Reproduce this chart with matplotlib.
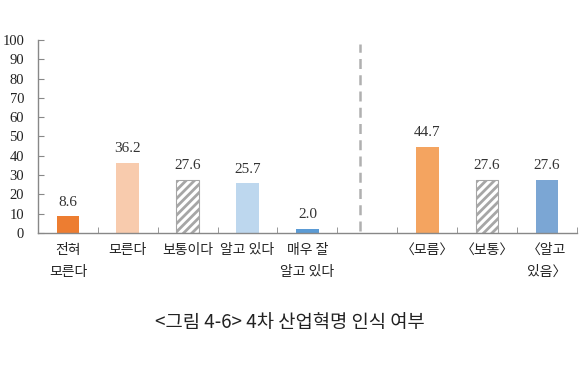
import matplotlib
matplotlib.use('Agg')
import matplotlib.pyplot as plt

plt.rcParams['font.family'] = ['Noto Sans CJK KR', 'DejaVu Sans']
plt.rcParams['hatch.linewidth'] = 2.0

# data
labels = ['전혀\n모른다', '모른다', '보통이다', '알고 있다', '매우 잘\n알고 있다',
          '', '〈모름〉', '〈보통〉', '〈알고\n있음〉']
values = [8.6, 36.2, 27.6, 25.7, 2.0, None, 44.7, 27.6, 27.6]
colors = ['#ed7d31', '#f8cbad', 'hatch', '#bdd7ee', '#5b9bd5',
          None, '#f4a460', 'hatch', '#7ba6d4']
y_ticks = [0, 10, 20, 30, 40, 50, 60, 70, 80, 90, 100]

fig = plt.figure(figsize=(5.8, 3.8), dpi=100)
ax = fig.add_axes([0.0655, 0.387, 0.929, 0.508])

for i, (v, c) in enumerate(zip(values, colors)):
    if v is None:
        continue
    if c == 'hatch':
        ax.bar(i, v, width=0.38, color='white', edgecolor='#a6a6a6',
               hatch='////', linewidth=0.8)
    else:
        ax.bar(i, v, width=0.38, color=c)
    ax.text(i, v + 4, f'{v:.1f}', ha='center', va='bottom', fontsize=11,
            family=['Liberation Serif', 'DejaVu Serif'], color='#333333')

# divider between the two groups
ax.plot([4.88, 4.88], [1, 98], color='#b0b0b0', linewidth=1.8,
        linestyle=(0, (4, 2.5)))

ax.set_xlim(-0.5, len(labels) - 0.5)
ax.set_ylim(0, 100)
ax.set_yticks(y_ticks)
ax.set_yticklabels([str(t) for t in y_ticks],
                   family=['Liberation Serif', 'DejaVu Serif'], fontsize=10.5)

ax.set_xticks(range(len(labels)))
ax.set_xticklabels(labels, fontsize=10, linespacing=1.75, va='top')
ax.set_xticks([i + 0.5 for i in range(-1, len(labels))], minor=True)
ax.tick_params(axis='x', which='major', length=0, pad=7, colors='#222222')
ax.tick_params(axis='x', which='minor', direction='in', length=4,
               color='#888888')
ax.tick_params(axis='y', direction='in', length=4, color='#888888', pad=10,
               colors='#222222')
ax.tick_params(axis='y', color='#888888')

for s in ['top', 'right']:
    ax.spines[s].set_visible(False)
for s in ['left', 'bottom']:
    ax.spines[s].set_color('#888888')
    ax.spines[s].set_linewidth(1.0)

fig.text(0.5, 0.152, '<그림 4-6> 4차 산업혁명 인식 여부', ha='center',
         va='center', fontsize=13.5, color='#222222')

fig.savefig('out.png', dpi=100, facecolor='white')
